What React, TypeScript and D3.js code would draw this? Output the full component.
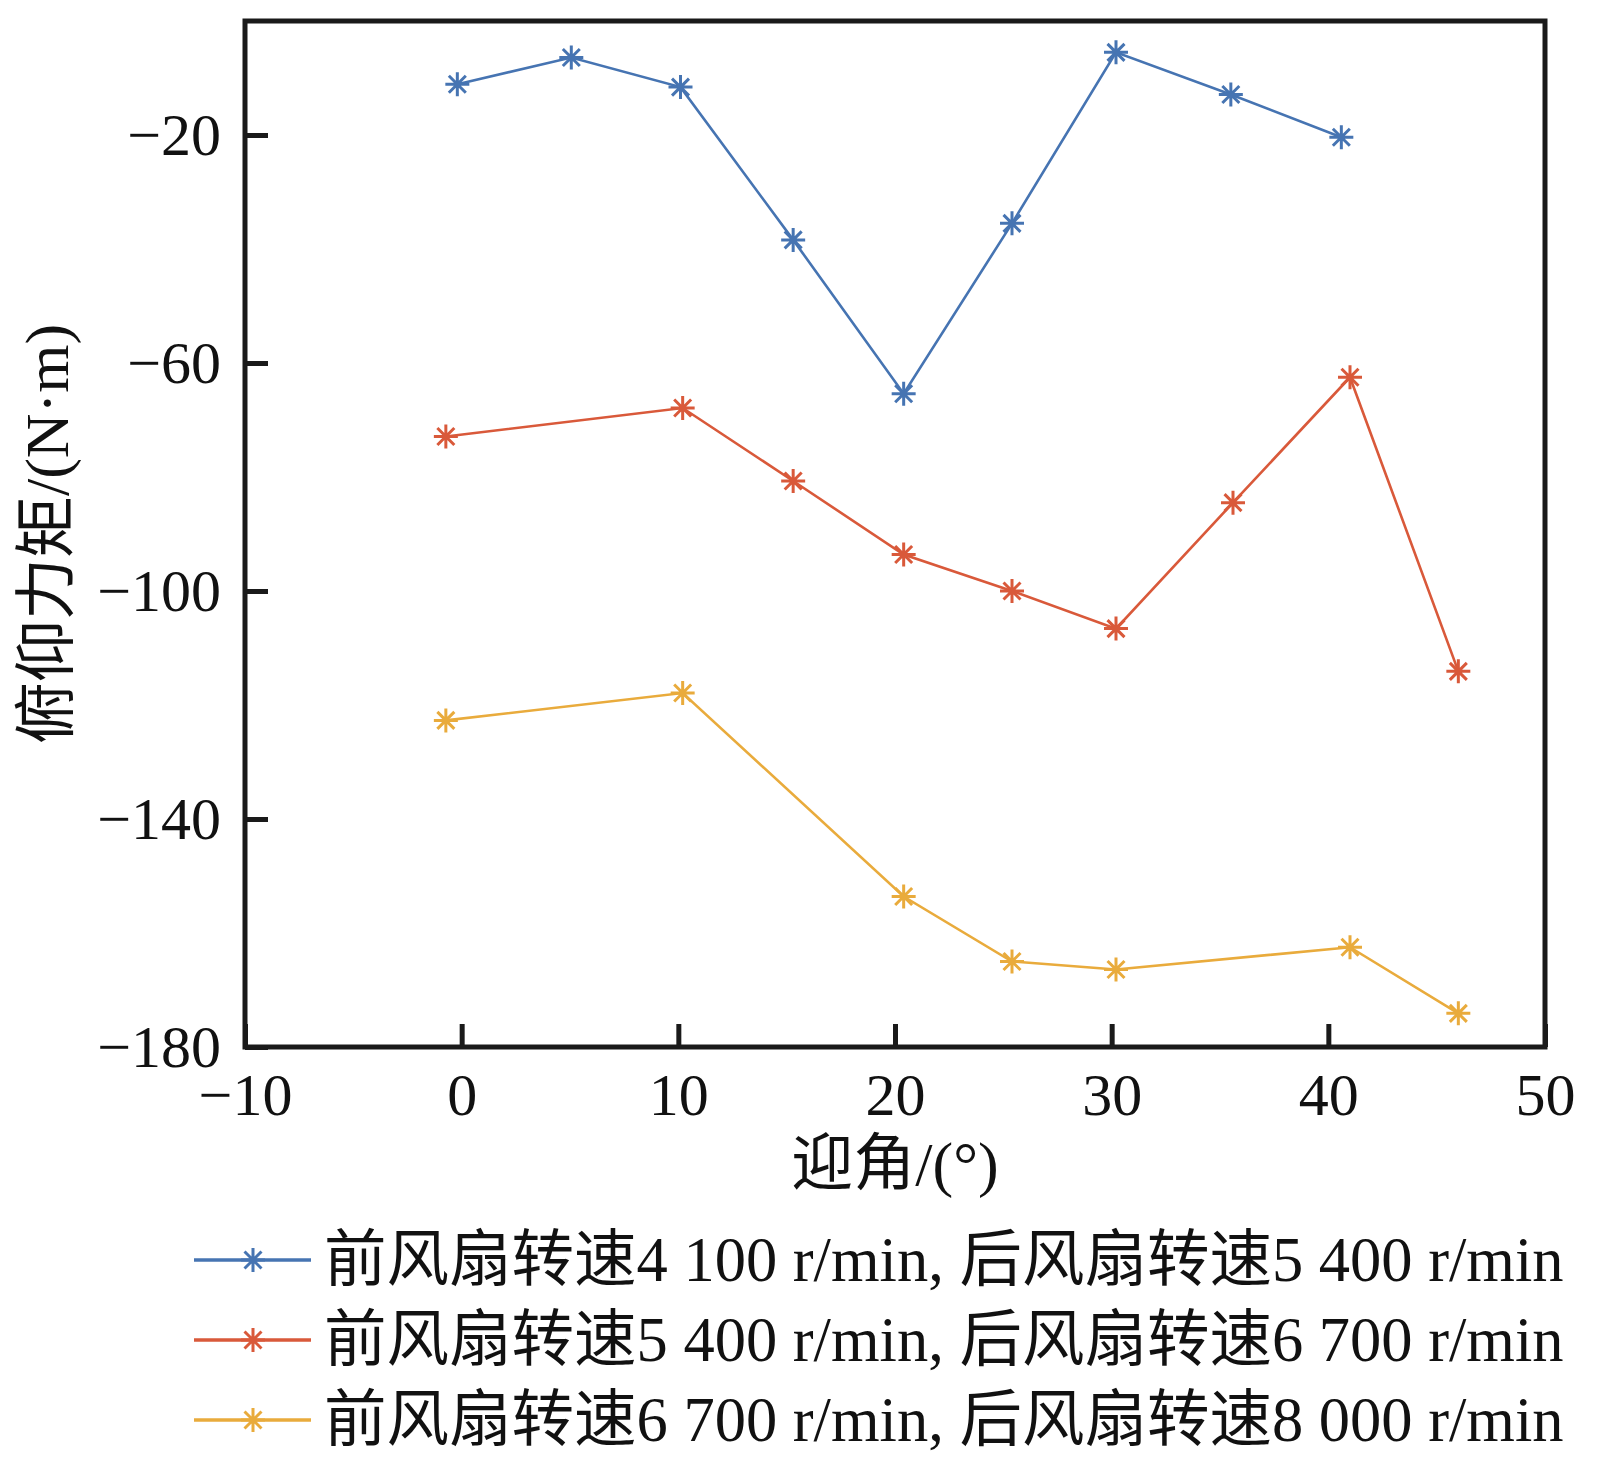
import { useEffect, useRef } from "react";
import * as d3 from "d3";

// angle of attack (deg) and pitching moment (N·m)
const blueX = [-0.2, 5.06, 10.1, 15.3, 20.4, 25.4, 30.2, 35.5, 40.6];
const blueY = [-11.1, -6.4, -11.6, -38.4, -65.4, -35.5, -5.5, -12.9, -20.4];

const orangeX = [-0.73, 10.2, 15.3, 20.4, 25.4, 30.2, 35.6, 41.0, 46.0];
const orangeY = [-72.9, -67.9, -80.7, -93.6, -100.0, -106.6, -84.5, -62.5, -114.1];

const yellowX = [-0.73, 10.2, 20.4, 25.4, 30.2, 41.0, 46.0];
const yellowY = [-122.7, -117.9, -153.6, -165.0, -166.4, -162.5, -174.1];

const xTicks = [-10, 0, 10, 20, 30, 40, 50];
const yTicks = [-180, -140, -100, -60, -20];

const seriesNames = [
  "前风扇转速4 100 r/min, 后风扇转速5 400 r/min",
  "前风扇转速5 400 r/min, 后风扇转速6 700 r/min",
  "前风扇转速6 700 r/min, 后风扇转速8 000 r/min",
];
const seriesColors = ["#4674b2", "#d9593a", "#e9ab3c"];

const FONT = "'Liberation Serif', 'Times New Roman', 'Noto Sans CJK SC', serif";

const starPath = (r: number) => {
  const d = r * 0.7071;
  return `M${-r},0L${r},0M0,${-r}L0,${r}M${-d},${-d}L${d},${d}M${-d},${d}L${d},${-d}`;
};

const App = () => {
  const svgRef = useRef<SVGSVGElement>(null);

  useEffect(() => {
    if (!svgRef.current) return;
    const width = 1599;
    const height = 1471;
    const margin = { top: 21, right: 54, bottom: 424, left: 245 };

    const svg = d3.select(svgRef.current);
    svg.selectAll("*").remove();
    svg.attr("width", width).attr("height", height);

    const x = d3.scaleLinear().domain([-10, 50]).range([margin.left, width - margin.right]);
    const y = d3.scaleLinear().domain([-180, 0]).range([height - margin.bottom, margin.top]);

    const series = [
      { xs: blueX, ys: blueY },
      { xs: orangeX, ys: orangeY },
      { xs: yellowX, ys: yellowY },
    ].map((s, i) => ({
      name: seriesNames[i],
      color: seriesColors[i],
      points: s.xs.map((v, j) => [v, s.ys[j]] as [number, number]),
    }));

    // X axis (ticks inside)
    const xAxis = svg
      .append("g")
      .attr("transform", `translate(0,${y(-180)})`)
      .call(d3.axisBottom(x).tickValues(xTicks).tickSize(-23).tickPadding(25));
    xAxis.select(".domain").remove();
    xAxis.selectAll("line").attr("stroke", "#1a1a1a").attr("stroke-width", 5);
    xAxis
      .selectAll("text")
      .attr("fill", "#111")
      .attr("font-size", 60)
      .attr("font-family", FONT);

    // Y axis (ticks inside)
    const yAxis = svg
      .append("g")
      .attr("transform", `translate(${x(-10)},0)`)
      .call(d3.axisLeft(y).tickValues(yTicks).tickSize(-23).tickPadding(24));
    yAxis.select(".domain").remove();
    yAxis.selectAll("line").attr("stroke", "#1a1a1a").attr("stroke-width", 5);
    yAxis
      .selectAll("text")
      .attr("fill", "#111")
      .attr("font-size", 60)
      .attr("font-family", FONT);

    // Lines + markers
    const line = d3
      .line<[number, number]>()
      .x((d) => x(d[0]))
      .y((d) => y(d[1]));

    series.forEach((s) => {
      svg
        .append("path")
        .datum(s.points)
        .attr("d", line)
        .attr("fill", "none")
        .attr("stroke", s.color)
        .attr("stroke-width", 2.6);
      svg
        .append("g")
        .selectAll("path")
        .data(s.points)
        .join("path")
        .attr("transform", (d) => `translate(${x(d[0])},${y(d[1])})`)
        .attr("d", starPath(12))
        .attr("fill", "none")
        .attr("stroke", s.color)
        .attr("stroke-width", 3);
    });

    // Plot box
    svg
      .append("rect")
      .attr("x", x(-10))
      .attr("y", y(0))
      .attr("width", x(50) - x(-10))
      .attr("height", y(-180) - y(0))
      .attr("fill", "none")
      .attr("stroke", "#1a1a1a")
      .attr("stroke-width", 5);

    // Axis titles
    svg
      .append("text")
      .attr("x", (x(-10) + x(50)) / 2)
      .attr("y", 1185)
      .attr("text-anchor", "middle")
      .attr("fill", "#111")
      .attr("font-size", 62)
      .attr("font-family", FONT)
      .text("迎角/(°)");

    svg
      .append("text")
      .attr("transform", `translate(46,${(y(0) + y(-180)) / 2}) rotate(-90)`)
      .attr("dy", "0.35em")
      .attr("text-anchor", "middle")
      .attr("fill", "#111")
      .attr("font-size", 62)
      .attr("font-family", FONT)
      .text("俯仰力矩/(N·m)");

    // Legend
    const legend = svg.append("g").attr("transform", "translate(194,1260)");
    series.forEach((s, i) => {
      const g = legend.append("g").attr("transform", `translate(0,${i * 80})`);
      g.append("line")
        .attr("x1", 0)
        .attr("x2", 117)
        .attr("y1", 0)
        .attr("y2", 0)
        .attr("stroke", s.color)
        .attr("stroke-width", 3.5);
      g.append("path")
        .attr("transform", "translate(59,0)")
        .attr("d", starPath(12))
        .attr("fill", "none")
        .attr("stroke", s.color)
        .attr("stroke-width", 3);
      g.append("text")
        .attr("x", 130)
        .attr("y", 21)
        .attr("fill", "#111")
        .attr("font-size", 62.5)
        .attr("font-family", FONT)
        .text(s.name);
    });
  }, []);

  return (
    <div style={{ position: "absolute", left: 0, top: 0, background: "#fff" }}>
      <svg ref={svgRef} style={{ display: "block" }} />
    </div>
  );
};

export default App;
